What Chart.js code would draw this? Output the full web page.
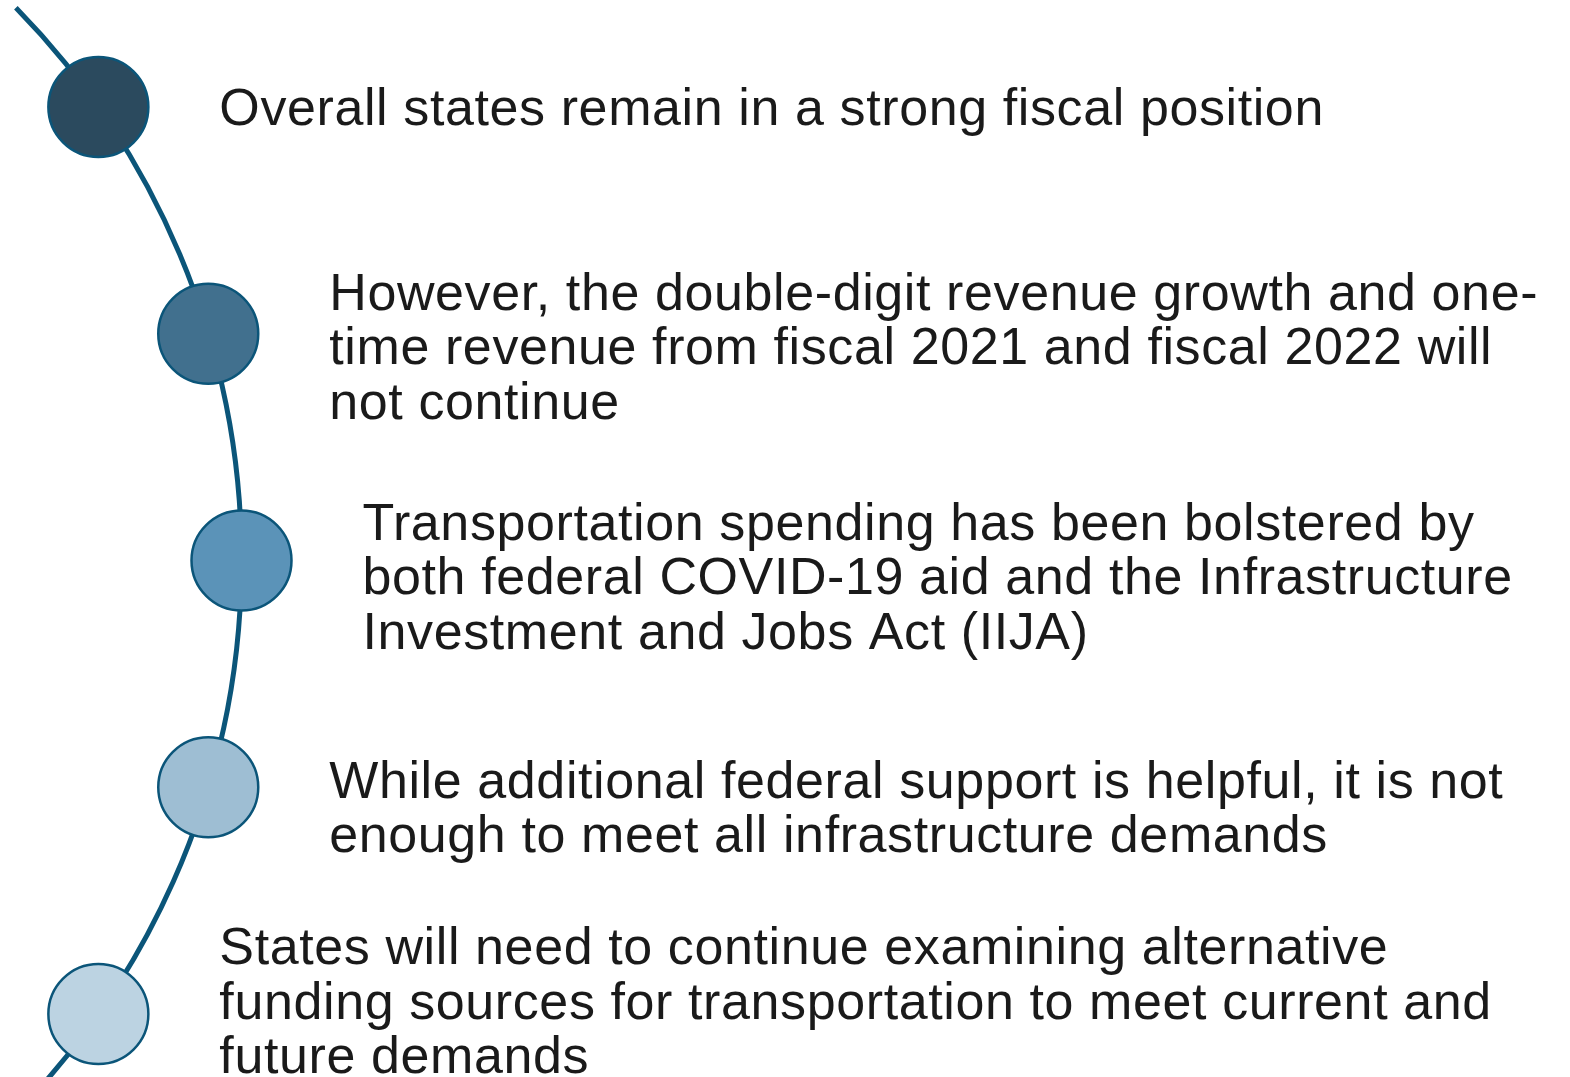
<!DOCTYPE html>
<html>
<head>
<meta charset="utf-8">
<script src="https://cdn.jsdelivr.net/npm/chart.js@4"></script>
<style>
  html, body { margin: 0; padding: 0; background: #fff; }
  canvas { display: block; }
</style>
</head>
<body>
<canvas id="chart" width="1570" height="1077"></canvas>
<script>
// the five steps down the arc, top to bottom
const steps = [1, 2, 3, 4, 5];

const statements = [
  ["Overall states remain in a strong fiscal position"],
  ["However, the double-digit revenue growth and one-",
   "time revenue from fiscal 2021 and fiscal 2022 will",
   "not continue"],
  ["Transportation spending has been bolstered by",
   "both federal COVID-19 aid and the Infrastructure",
   "Investment and Jobs Act (IIJA)"],
  ["While additional federal support is helpful, it is not",
   "enough to meet all infrastructure demands"],
  ["States will need to continue examining alternative",
   "funding sources for transportation to meet current and",
   "future demands"]
];

const fills = ["#2b4a5e", "#41708e", "#5b93b8", "#9ebed3", "#bcd3e2"];
const lineColor = "#0b5579";

// layout (pixels per step, arc shape, text nudges)
const W = 1570, H = 1077;
const U = 226.75;                 // px between steps
const vertexX = 241.5 / U;        // right-most point of the arc
const R = 790 / U;                // arc radius
const midStep = 3;
const textGap = 121 / U;
const textShift = [-1, 12, 15, 19, -14];
const lineH = 54.5;

function arcX(step) {
  const d = step - midStep;
  return vertexX - R + Math.sqrt(R * R - d * d);
}

const arcPlugin = {
  id: "arc",
  beforeDatasetsDraw(chart) {
    const { ctx, scales: { x, y } } = chart;
    const cx = x.getPixelForValue(vertexX - R);
    const cy = y.getPixelForValue(midStep);
    const r = x.getPixelForValue(vertexX) - cx;
    ctx.save();
    ctx.strokeStyle = lineColor;
    ctx.lineWidth = 5;
    ctx.lineCap = "butt";
    ctx.beginPath();
    ctx.arc(cx, cy, r, -0.775, 0.85);
    ctx.stroke();
    ctx.restore();
  }
};

const textPlugin = {
  id: "texts",
  afterDraw(chart) {
    const { ctx, scales: { x, y } } = chart;
    ctx.save();
    ctx.fillStyle = "#1a1a1a";
    ctx.font = '52px "Liberation Sans", Arial, sans-serif';
    ctx.letterSpacing = "0.6px";
    ctx.textBaseline = "alphabetic";
    steps.forEach((s, i) => {
      const lines = statements[i];
      const tx = x.getPixelForValue(arcX(s) + textGap);
      const cy = y.getPixelForValue(s);
      const first = cy + 18.5 - (lines.length - 1) * lineH / 2 + textShift[i];
      lines.forEach((ln, k) => ctx.fillText(ln, tx, first + k * lineH));
    });
    ctx.restore();
  }
};

new Chart(document.getElementById("chart"), {
  type: "scatter",
  data: {
    datasets: [{
      data: steps.map(s => ({ x: arcX(s), y: s })),
      backgroundColor: fills,
      borderColor: lineColor,
      borderWidth: 2.5,
      pointRadius: 50,
      pointHoverRadius: 50,
      clip: false
    }]
  },
  options: {
    responsive: false,
    animation: false,
    events: [],
    layout: { padding: 0, autoPadding: false },
    plugins: { legend: { display: false }, tooltip: { enabled: false } },
    scales: {
      x: { type: "linear", display: false, min: 0, max: W / U },
      y: { type: "linear", display: false, reverse: true,
           min: 1 - 107 / U, max: 1 - 107 / U + H / U }
    }
  },
  plugins: [arcPlugin, textPlugin]
});
</script>
</body>
</html>
